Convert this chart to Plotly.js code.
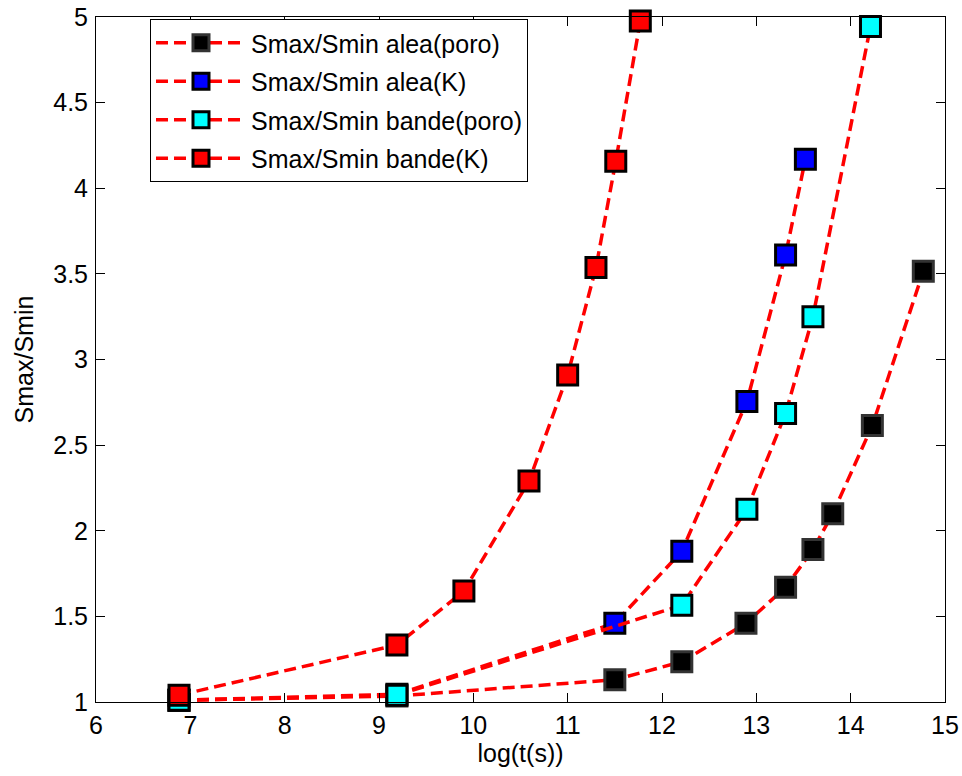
<!DOCTYPE html>
<html>
<head>
<meta charset="utf-8">
<script src="https://cdn.plot.ly/plotly-3.0.1.min.js"></script>
<style>html,body{margin:0;padding:0;background:#fff;}#chart{width:962px;height:776px;}</style>
</head>
<body>
<div id="chart"></div>
<script>
// Data
const seriesNames = ["Smax/Smin alea(poro)", "Smax/Smin alea(K)", "Smax/Smin bande(poro)", "Smax/Smin bande(K)"];

const aleaPoroX = [6.88, 9.19, 11.5, 12.21, 12.89, 13.31, 13.6, 13.81, 14.23, 14.77];
const aleaPoroY = [1.01, 1.035, 1.13, 1.235, 1.46, 1.67, 1.89, 2.10, 2.615, 3.515];

const aleaKX = [6.88, 9.19, 11.5, 12.21, 12.9, 13.31, 13.52];
const aleaKY = [1.01, 1.045, 1.46, 1.88, 2.755, 3.61, 4.17];

const bandePoroX = [6.88, 9.19, 12.21, 12.9, 13.31, 13.6, 14.21];
const bandePoroY = [1.01, 1.04, 1.565, 2.125, 2.685, 3.25, 4.945];

const bandeKX = [6.88, 9.19, 9.9, 10.59, 11.0, 11.3, 11.51, 11.77];
const bandeKY = [1.04, 1.333, 1.648, 2.29, 2.91, 3.537, 4.158, 4.976];

const fillColors = ["#000000", "#0000FF", "#00FFFF", "#FF0000"];
const xs = [aleaPoroX, aleaKX, bandePoroX, bandeKX];
const ys = [aleaPoroY, aleaKY, bandePoroY, bandeKY];

const font = "Arial, 'Liberation Sans', sans-serif";

const traces = xs.map((x, i) => ({
  x: x, y: ys[i], name: seriesNames[i], legendgroup: "g" + i,
  type: "scatter", mode: "lines+markers", cliponaxis: false,
  line: {color: "#FF0000", width: 3.5, dash: "12px,6px"},
  marker: {symbol: "square", size: 20, color: fillColors[i],
           line: {color: i === 0 ? "#333333" : "#000000", width: 3}}
}));

const layout = {
  width: 962, height: 776,
  margin: {l: 96, r: 17, t: 17, b: 74},
  paper_bgcolor: "#fff", plot_bgcolor: "#fff",
  font: {family: font, size: 25, color: "#000"},
  showlegend: true,
  legend: {x: 0.0636, y: 0.997, xanchor: "left", yanchor: "top",
           bgcolor: "#fff", bordercolor: "#000", borderwidth: 1,
           font: {family: font, size: 25, color: "#000"},
           itemwidth: 90, tracegroupgap: 3},
  xaxis: {range: [6, 15], dtick: 1, tick0: 6, showgrid: false, zeroline: false,
          showline: true, linecolor: "#000", linewidth: 1, mirror: "ticks",
          ticks: "inside", ticklen: 9, tickcolor: "#000",
          ticklabelstandoff: 1,
          tickfont: {family: font, size: 25, color: "#000"},
          title: {text: "log(t(s))", font: {family: font, size: 25, color: "#000"}, standoff: 2}},
  yaxis: {range: [1, 5], dtick: 0.5, tick0: 1, showgrid: false, zeroline: false,
          showline: true, linecolor: "#000", linewidth: 1, mirror: "ticks",
          ticks: "inside", ticklen: 9, tickcolor: "#000",
          ticklabelstandoff: 2,
          tickfont: {family: font, size: 25, color: "#000"},
          title: {text: "Smax/Smin", font: {family: font, size: 25, color: "#000"}, standoff: 12}}
};

Plotly.newPlot("chart", traces, layout, {displayModeBar: false, staticPlot: true});
</script>
</body>
</html>
